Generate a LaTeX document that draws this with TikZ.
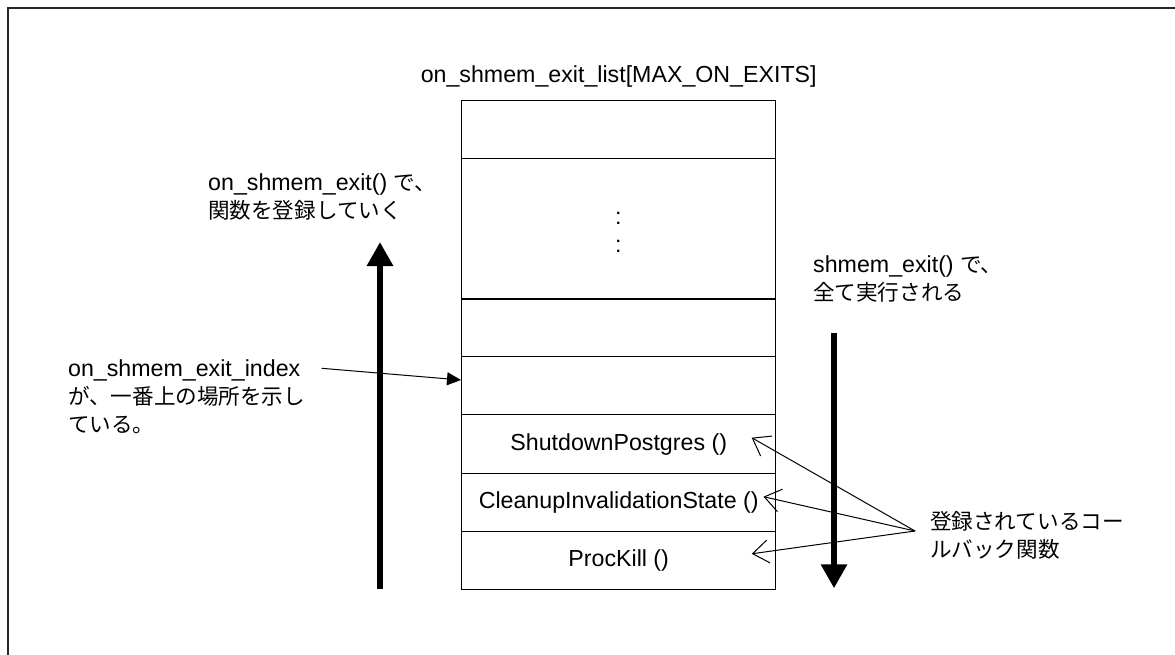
\documentclass[tikz,border=0pt]{standalone}
\usepackage{fontspec}
\setmainfont{Liberation Sans}
\newfontfamily\jp{Noto Sans CJK JP}[Scale=0.93]
\usetikzlibrary{arrows.meta}

\begin{document}
\begin{tikzpicture}[x=1pt,y=-1pt,
  every node/.style={inner sep=0pt, font=\fontsize{23.2}{28}\selectfont},
  cell/.style={draw, line width=1.2pt, minimum width=314pt, inner sep=0pt},
  txt/.style={align=left, anchor=west},
  bigarrow/.style={line width=6pt, -{Triangle[length=24pt,width=25pt]}},
  pointer/.style={line width=1pt, -{Triangle[length=14pt,width=13pt]}},
  callback/.style={line width=1pt, -{Straight Barb[length=16pt,width=23pt]}},
]
\useasboundingbox (0,0) rectangle (1175,655);

% outer frame (open at the right and bottom)
\draw[line width=1.6pt, black!85] (8,665) -- (8,8) -- (1185,8);

% the exit-callback array
\node (title) at (618.7,76.7) {on\_shmem\_exit\_list[MAX\_ON\_EXITS]};
\node[cell, minimum height=57.6pt] (r0) at (618.7,129.5) {};
\node[cell, minimum height=140.7pt] (r1) at (618.7,228.65) {};
\node[cell, minimum height=57.7pt] (r2) at (618.7,327.85) {};
\node[cell, minimum height=58pt] (r3) at (618.7,385.7) {};
\node[cell, minimum height=58.6pt] (r4) at (618.7,444) {ShutdownPostgres ()};
\node[cell, minimum height=58.4pt] (r5) at (618.7,502.5) {CleanupInvalidationState ()};
\node[cell, minimum height=57.6pt] (r6) at (618.7,560.5) {ProcKill ()};
\node[anchor=base, align=center] (dots) at (618.3,252) {:\\:};

% explanatory texts
\node[txt] (reg) at (208,197) {on\_shmem\_exit() {\jp で、}\\{\jp 関数を登録していく}};
\node[txt] (idx) at (68,397) {on\_shmem\_exit\_index\\{\jp が、一番上の場所を示し}\\{\jp ている。}};
\node[txt] (run) at (813,278.5) {shmem\_exit() {\jp で、}\\{\jp 全て実行される}};
\node[txt] (cbtext) at (930,535) {{\jp 登録されているコー}\\{\jp ルバック関数}};

% arrow end points
\coordinate (upfrom) at (380,589.3);
\coordinate (upto) at (380,242);
\coordinate (downfrom) at (834,333.3);
\coordinate (downto) at (834,588.3);
\coordinate (idxtail) at (321.7,368.3);
\coordinate (idxtip) at (461,380);
\coordinate (cbroot) at (915,531);
\coordinate (cb1) at (751.7,437.7);
\coordinate (cb2) at (763.5,496.7);
\coordinate (cb3) at (751.7,553.8);

% arrows
\draw[bigarrow] (upfrom) -- (upto);
\draw[bigarrow] (downfrom) -- (downto);
\draw[pointer] (idxtail) -- (idxtip);
\draw[callback] (cbroot) -- (cb1);
\draw[callback] (cbroot) -- (cb2);
\draw[callback] (cbroot) -- (cb3);
\end{tikzpicture}
\end{document}
